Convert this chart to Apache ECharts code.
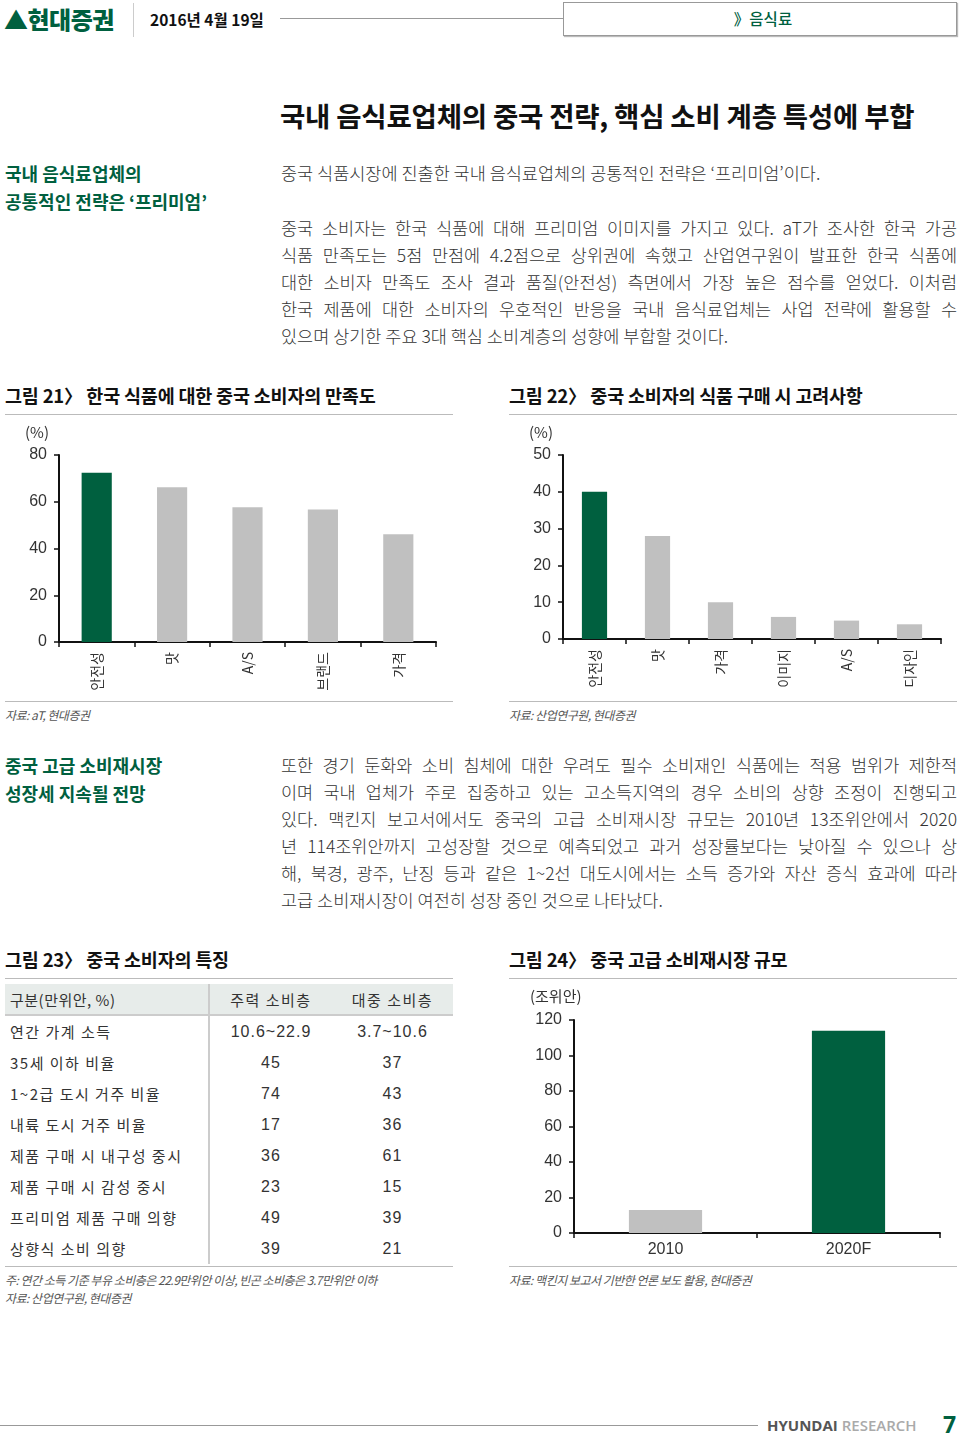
<!DOCTYPE html>
<html><head><meta charset="utf-8">
<script src="https://cdn.jsdelivr.net/npm/echarts@6/dist/echarts.min.js"></script>
<style>
html,body{margin:0;padding:0;background:#fff;}
body{width:960px;height:1435px;position:relative;overflow:hidden;font-family:'Noto Sans CJK KR','Noto Sans',sans-serif;color:#222;}
.abs{position:absolute;white-space:nowrap;}
.sec{font-weight:700;font-size:18px;color:#00603f;line-height:28px;}
.para{position:absolute;left:281px;width:676px;font-size:17.5px;font-weight:300;color:#333;}
.para div{height:27px;line-height:27px;white-space:nowrap;text-align:justify;text-align-last:justify;}
.para div.last{text-align-last:left;}
.figt{font-weight:700;font-size:18.5px;color:#111;letter-spacing:-0.2px;}
.hr{position:absolute;height:0;border-top:1.5px solid #bbb;}
.src{font-size:12px;font-style:italic;color:#555;letter-spacing:-0.5px;}
table{border-collapse:collapse;}
</style></head>
<body>
<!-- header -->
<div class="abs" style="left:4px;top:3px;font-size:24px;font-weight:800;color:#00603f;line-height:32px;letter-spacing:-0.5px;">▲현대증권</div>
<div class="abs" style="left:133px;top:3px;height:34px;border-left:1px solid #ccc;"></div>
<div class="abs" style="left:150px;top:8px;font-size:15.5px;font-weight:700;color:#111;line-height:22px;">2016년 4월 19일</div>
<div class="hr" style="left:280px;width:283px;top:18px;border-top:1px solid #999;"></div>
<div class="abs" style="left:563px;top:2px;width:392px;height:32px;border:1px solid #999;box-shadow:1px 1px 1px #bbb;"></div>
<div class="abs" style="left:563px;top:7px;width:400px;text-align:center;font-size:15.5px;color:#00603f;font-weight:500;line-height:22px;">》음식료</div>

<div class="abs" style="left:280px;top:96px;font-size:27.5px;font-weight:700;color:#111;line-height:38px;letter-spacing:-0.2px;">국내 음식료업체의 중국 전략, 핵심 소비 계층 특성에 부합</div>

<div class="abs sec" style="left:5px;top:159px;">국내 음식료업체의<br>공통적인 전략은 ‘프리미엄’</div>
<div class="para" style="top:159px;"><div class="last">중국 식품시장에 진출한 국내 음식료업체의 공통적인 전략은 ‘프리미엄’이다.</div></div>
<div class="para" style="top:214px;">
<div>중국 소비자는 한국 식품에 대해 프리미엄 이미지를 가지고 있다. aT가 조사한 한국 가공</div>
<div>식품 만족도는 5점 만점에 4.2점으로 상위권에 속했고 산업연구원이 발표한 한국 식품에</div>
<div>대한 소비자 만족도 조사 결과 품질(안전성) 측면에서 가장 높은 점수를 얻었다. 이처럼</div>
<div>한국 제품에 대한 소비자의 우호적인 반응을 국내 음식료업체는 사업 전략에 활용할 수</div>
<div class="last">있으며 상기한 주요 3대 핵심 소비계층의 성향에 부합할 것이다.</div>
</div>

<div class="abs figt" style="left:5px;top:382px;">그림 21〉 한국 식품에 대한 중국 소비자의 만족도</div>
<div class="hr" style="left:5px;width:448px;top:414px;"></div>
<div class="abs figt" style="left:509px;top:382px;">그림 22〉 중국 소비자의 식품 구매 시 고려사항</div>
<div class="hr" style="left:509px;width:448px;top:414px;"></div>

<div id="c21" class="abs" style="left:0;top:420px;width:480px;height:280px;"></div>
<div id="c22" class="abs" style="left:500px;top:420px;width:460px;height:280px;"></div>

<div class="hr" style="left:5px;width:448px;top:701px;"></div>
<div class="abs src" style="left:5px;top:706px;">자료: aT, 현대증권</div>
<div class="hr" style="left:509px;width:448px;top:701px;"></div>
<div class="abs src" style="left:509px;top:706px;">자료: 산업연구원, 현대증권</div>

<div class="abs sec" style="left:5px;top:751px;">중국 고급 소비재시장<br>성장세 지속될 전망</div>
<div class="para" style="top:751px;">
<div>또한 경기 둔화와 소비 침체에 대한 우려도 필수 소비재인 식품에는 적용 범위가 제한적</div>
<div>이며 국내 업체가 주로 집중하고 있는 고소득지역의 경우 소비의 상향 조정이 진행되고</div>
<div>있다. 맥킨지 보고서에서도 중국의 고급 소비재시장 규모는 2010년 13조위안에서 2020</div>
<div>년 114조위안까지 고성장할 것으로 예측되었고 과거 성장률보다는 낮아질 수 있으나 상</div>
<div>해, 북경, 광주, 난징 등과 같은 1~2선 대도시에서는 소득 증가와 자산 증식 효과에 따라</div>
<div class="last">고급 소비재시장이 여전히 성장 중인 것으로 나타났다.</div>
</div>

<div class="abs figt" style="left:5px;top:946px;">그림 23〉 중국 소비자의 특징</div>
<div class="hr" style="left:5px;width:448px;top:978px;"></div>
<div class="abs figt" style="left:509px;top:946px;">그림 24〉 중국 고급 소비재시장 규모</div>
<div class="hr" style="left:509px;width:448px;top:978px;"></div>

<div id="tbl" class="abs" style="left:5px;top:984px;width:448px;"></div>
<div class="hr" style="left:5px;width:448px;top:1266px;"></div>
<div class="abs src" style="left:5px;top:1271px;">주: 연간 소득 기준 부유 소비층은 22.9만위안 이상, 빈곤 소비층은 3.7만위안 이하</div>
<div class="abs src" style="left:5px;top:1289px;">자료: 산업연구원, 현대증권</div>

<div id="c24" class="abs" style="left:500px;top:980px;width:460px;height:285px;"></div>
<div class="hr" style="left:509px;width:448px;top:1266px;"></div>
<div class="abs src" style="left:509px;top:1271px;">자료: 맥킨지 보고서 기반한 언론 보도 활용, 현대증권</div>

<!-- footer -->
<div class="hr" style="left:0;width:758px;top:1425px;border-top:1px solid #999;"></div>
<div class="abs" style="left:767px;top:1414px;font-size:15px;line-height:22px;font-family:'Open Sans','Noto Sans',sans-serif;"><span style="font-weight:700;color:#555;">HYUNDAI</span> <span style="color:#aaa;font-weight:600;">RESEARCH</span></div>
<div class="abs" style="left:943px;top:1409px;font-size:23px;font-weight:700;color:#00603f;line-height:30px;font-family:'Open Sans','Noto Sans',sans-serif;">7</div>

<script>
// ---- data ----
const fig21Categories = ['안전성', '맛', 'A/S', '브랜드', '가격'];
const fig21Values = [72.4, 66.2, 57.6, 56.7, 46.1];
const fig21Ticks = [0, 20, 40, 60, 80];
const fig21Unit = '(%)';

const fig22Categories = ['안전성', '맛', '가격', '이미지', 'A/S', '디자인'];
const fig22Values = [40, 28, 10, 6, 5, 4];
const fig22Ticks = [0, 10, 20, 30, 40, 50];
const fig22Unit = '(%)';

const fig24Categories = ['2010', '2020F'];
const fig24Values = [13, 114];
const fig24Ticks = [0, 20, 40, 60, 80, 100, 120];
const fig24Unit = '(조위안)';

const tableHeader = ['구분(만위안, %)', '주력 소비층', '대중 소비층'];
const tableRowLabels = ['연간 가계 소득', '35세 이하 비율', '1~2급 도시 거주 비율', '내륙 도시 거주 비율', '제품 구매 시 내구성 중시', '제품 구매 시 감성 중시', '프리미엄 제품 구매 의향', '상향식 소비 의향'];
const mainConsumers = ['10.6~22.9', '45', '74', '17', '36', '23', '49', '39'];
const massConsumers = ['3.7~10.6', '37', '43', '36', '61', '15', '39', '21'];

// ---- styles ----
const GREEN = '#00603f', GRAY = '#c0c0c0';
const NUMF = "'Liberation Sans', Arial, 'Noto Sans CJK KR', sans-serif";
const KRF = "'Noto Sans CJK KR', sans-serif";

function barChart(el, cats, vals, ticks, unit, hi, grid, rotate, unitPos) {
  const chart = echarts.init(document.getElementById(el), null, {renderer: 'canvas'});
  const step = ticks[1] - ticks[0];
  chart.setOption({
    animation: false,
    grid: grid,
    graphic: [{type: 'text', left: unitPos[0], top: unitPos[1], style: {text: unit, font: '15px ' + KRF, fill: '#333'}}],
    xAxis: {
      type: 'category', data: cats,
      axisLine: {lineStyle: {color: '#111', width: 2}},
      axisTick: {show: true, length: 5, lineStyle: {color: '#111', width: 1.5}, alignWithLabel: false},
      axisLabel: {rotate: rotate, margin: rotate ? 10 : 9, color: '#333', fontSize: rotate ? 14 : 16, fontFamily: rotate ? KRF : NUMF, interval: 0}
    },
    yAxis: {
      type: 'value', min: ticks[0], max: ticks[ticks.length - 1], interval: step,
      splitLine: {show: false},
      axisLine: {show: true, lineStyle: {color: '#111', width: 2}},
      axisTick: {show: true, length: 5, lineStyle: {color: '#111', width: 1.5}},
      axisLabel: {margin: 12, color: '#333', fontSize: 16, fontFamily: NUMF}
    },
    series: [{
      type: 'bar', barWidth: '40%',
      data: vals.map((v, i) => ({value: v, itemStyle: {color: i === hi ? GREEN : GRAY}}))
    }]
  });
}

barChart('c21', fig21Categories, fig21Values, fig21Ticks, fig21Unit, 0,
  {left: 59, top: 35, width: 377, height: 187}, 90, [25, 5]);
barChart('c22', fig22Categories, fig22Values, fig22Ticks, fig22Unit, 0,
  {left: 63, top: 35, width: 378, height: 184}, 90, [29, 5]);
barChart('c24', fig24Categories, fig24Values, fig24Ticks, fig24Unit, 1,
  {left: 74, top: 40, width: 366, height: 213}, 0, [30, 9]);

// ---- table ----
(function () {
  const cell = 'padding:0;height:31px;font-size:15px;color:#333;';
  const nf = NUMF.replace(/'/g, '&quot;');
  let h = '<table style="width:448px;">';
  h += '<tr style="background:#e7ecea;">' +
    '<td style="' + cell + 'height:30px;padding-left:5px;width:198px;border-right:2px solid #ccc;border-bottom:2px solid #ccc;letter-spacing:0.5px;">' + tableHeader[0] + '</td>' +
    '<td style="' + cell + 'height:30px;text-align:center;width:122px;border-bottom:2px solid #ccc;letter-spacing:1.5px;">' + tableHeader[1] + '</td>' +
    '<td style="' + cell + 'height:30px;text-align:center;border-bottom:2px solid #ccc;letter-spacing:1.5px;">' + tableHeader[2] + '</td></tr>';
  tableRowLabels.forEach((lab, i) => {
    h += '<tr>' +
      '<td style="' + cell + 'padding-left:5px;border-right:2px solid #ccc;letter-spacing:1.5px;">' + lab + '</td>' +
      '<td style="' + cell + 'text-align:center;font-family:' + nf + ';font-size:16px;letter-spacing:1px;">' + mainConsumers[i] + '</td>' +
      '<td style="' + cell + 'text-align:center;font-family:' + nf + ';font-size:16px;letter-spacing:1px;">' + massConsumers[i] + '</td></tr>';
  });
  h += '</table>';
  document.getElementById('tbl').innerHTML = h;
})();
</script>
</body></html>
